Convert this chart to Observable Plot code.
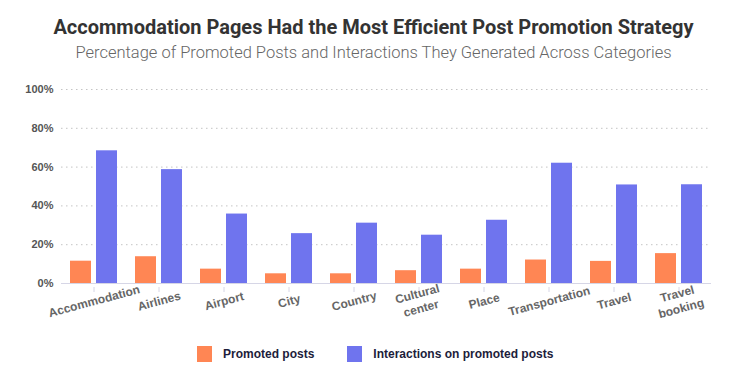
<!DOCTYPE html>
<html><head><meta charset="utf-8">
<script src="https://cdn.jsdelivr.net/npm/d3@7"></script>
<script src="https://cdn.jsdelivr.net/npm/@observablehq/plot@0.6"></script>
<style>
body{margin:0;background:#fff;width:747px;overflow:hidden}
#title{font-family:Roboto,sans-serif;font-weight:700;font-size:20px;color:#333;text-align:center;line-height:24px;padding-top:15px}
#subtitle{font-family:Roboto,sans-serif;font-weight:300;font-size:16.5px;color:#666;text-align:center;line-height:22px;margin-top:3px}
#chart{height:270px;margin-top:-2px}
#legend{display:flex;justify-content:flex-start;align-items:center;font-family:'Liberation Sans',Arial,sans-serif;font-weight:bold;font-size:12px;color:#1d1d3b;margin-top:14px;padding-left:197px}
.item{display:flex;align-items:center}
.sw{width:15px;height:16px;margin-right:11px}
</style></head><body>
<div id="title">Accommodation Pages Had the Most Efficient Post Promotion Strategy</div>
<div id="subtitle">Percentage of Promoted Posts and Interactions They Generated Across Categories</div>
<div id="chart"></div>
<div id="legend"></div>
<script>
const categories = ["Accommodation","Airlines","Airport","City","Country","Cultural center","Place","Transportation","Travel","Travel booking"];
const tickLabels = ["Accommodation","Airlines","Airport","City","Country","Cultural\ncenter","Place","Transportation","Travel","Travel\nbooking"];
const series = ["Promoted posts","Interactions on promoted posts"];
const promoted = [11.5,13.8,7.4,5.0,5.0,6.6,7.4,12.1,11.4,15.4];
const interactions = [68.4,58.7,35.8,25.7,31.1,24.9,32.6,62.0,50.8,50.9];
const colors = ["#FF8654","#6F74EE"];
const yTicks = [0,20,40,60,80,100];

const data = categories.flatMap((c,i)=>[
  {category:c, series:series[0], value:promoted[i]},
  {category:c, series:series[1], value:interactions[i]}
]);
const labelOf = new Map(categories.map((c,i)=>[c,tickLabels[i]]));

const chart = Plot.plot({
  width:747, height:270, marginLeft:60, marginRight:35, marginTop:27, marginBottom:49,
  style:{fontFamily:"'Liberation Sans', Arial, sans-serif", background:"transparent"},
  fx:{domain:categories, padding:0, label:null, axis:null},
  x:{domain:series, paddingInner:0.19, paddingOuter:0.32, axis:null},
  y:{domain:[0,100], axis:null, label:null},
  color:{domain:series, range:colors},
  marks:[
    Plot.gridY(yTicks.slice(1),{stroke:"#c4c4c4", strokeOpacity:1, strokeDasharray:"1.5,3.5"}),
    Plot.barY(data,{fx:"category", x:"series", y:"value", fill:"series"}),
    Plot.ruleY([0],{stroke:"#d6d6e6"}),
    Plot.axisY(yTicks,{anchor:"left", label:null, tickSize:0, tickPadding:8, tickFormat:d=>d+"%", fontWeight:"bold", fill:"#555", fontSize:11}),
    Plot.axisFx({anchor:"bottom", label:null, tickSize:5, stroke:"#d6d6e6", tickRotate:-15, textAnchor:"middle", lineHeight:1.25, dy:4, tickFormat:c=>labelOf.get(c), fontWeight:"bold", fill:"#666", fontSize:12})
  ]
});
document.getElementById("chart").appendChild(chart);

const legend = document.getElementById("legend");
series.forEach((s,i)=>{
  const item = document.createElement("div");
  item.className="item";
  if(i>0) item.style.marginLeft="33px";
  const sw = document.createElement("div");
  sw.className="sw"; sw.style.background=colors[i];
  const t = document.createElement("span"); t.textContent=s;
  item.appendChild(sw); item.appendChild(t);
  legend.appendChild(item);
});
</script>
</body></html>
